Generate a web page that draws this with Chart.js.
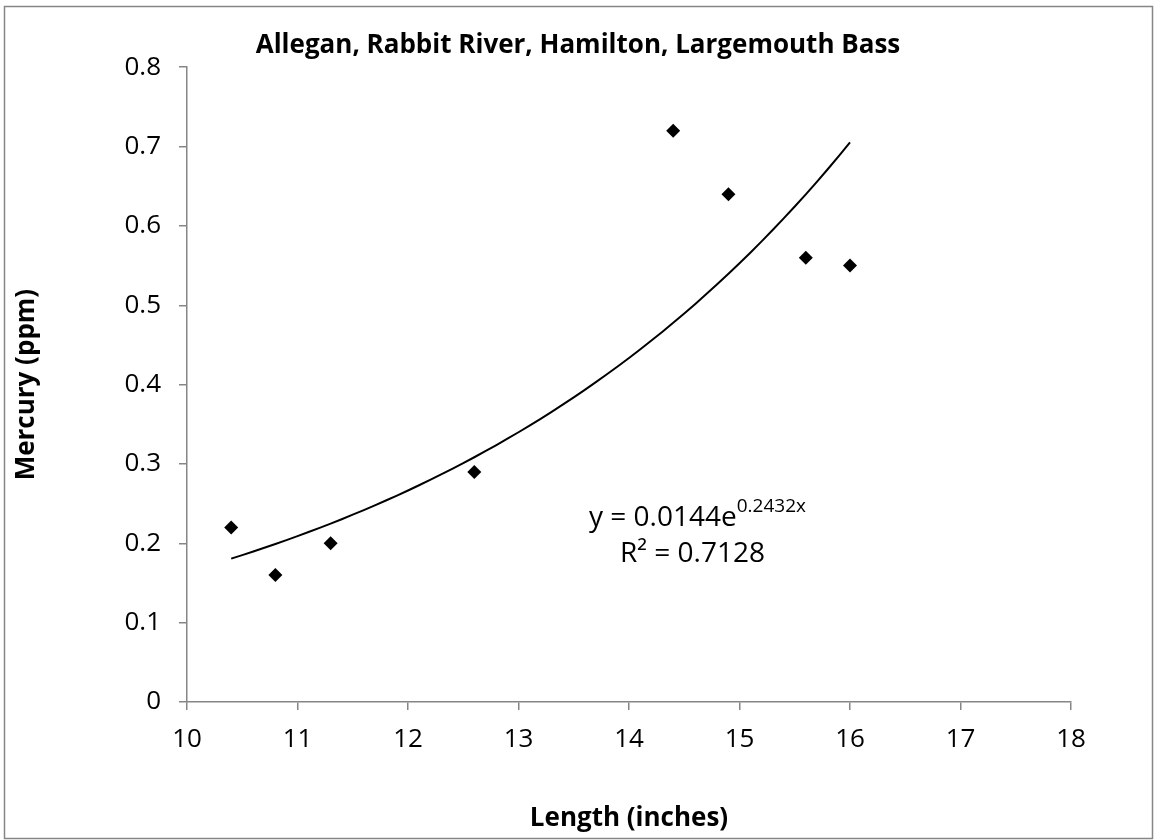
<!DOCTYPE html>
<html>
<head>
<meta charset="utf-8">
<script src="https://cdn.jsdelivr.net/npm/chart.js@4/dist/chart.umd.min.js"></script>
<style>
  html, body { margin: 0; padding: 0; background: #fff; }
  #wrap { width: 1156px; height: 840px; position: relative; }
</style>
</head>
<body>
<div id="wrap"><canvas id="chart" width="1156" height="840"></canvas></div>
<script>
// 数据
const lengths = [10.4, 10.8, 11.3, 12.6, 14.4, 14.9, 15.6, 16.0];
const mercury = [0.22, 0.16, 0.20, 0.29, 0.72, 0.64, 0.56, 0.55];
const xTicks = [10, 11, 12, 13, 14, 15, 16, 17, 18];
const yTicks = [0, 0.1, 0.2, 0.3, 0.4, 0.5, 0.6, 0.7, 0.8];

// 趋势线 (Excel 指数拟合): y = a * e^(b x)
const trendA = 0.0144;
const trendB = 0.2432;
const trendR2 = 0.7128;
const trendFrom = 10.4;
const trendTo = 16.0;

const FONT = '"Open Sans", "Liberation Sans", sans-serif';
const AXIS_GREY = '#868686';

const trendPoints = [];
for (let i = 0; i <= 56; i++) {
  const x = trendFrom + (trendTo - trendFrom) * i / 56;
  trendPoints.push({ x: x, y: trendA * Math.exp(trendB * x) });
}

// 外框 + 标题居中于整张图
const framePlugin = {
  id: 'frame',
  afterLayout(chart) {
    const t = chart.titleBlock;
    if (t) {
      t.left = 0;
      t.right = chart.width;
      t.width = chart.width;
    }
  },
  beforeDraw(chart) {
    const ctx = chart.ctx;
    ctx.save();
    ctx.fillStyle = '#fff';
    ctx.fillRect(0, 0, chart.width, chart.height);
    ctx.strokeStyle = AXIS_GREY;
    ctx.lineWidth = 1.5;
    ctx.strokeRect(4.5, 6.5, 1148, 832);
    ctx.restore();
  }
};

// 公式标签
const equationPlugin = {
  id: 'equation',
  afterDatasetsDraw(chart) {
    const ctx = chart.ctx;
    const xs = chart.scales.x, ys = chart.scales.y;
    const cx = xs.getPixelForValue(14.62);
    const cy = ys.getPixelForValue(0.232);
    ctx.save();
    ctx.fillStyle = '#000';
    ctx.textBaseline = 'middle';
    const main = 'y = ' + trendA.toFixed(4) + 'e';
    const sup = trendB.toFixed(4) + 'x';
    ctx.font = '28px ' + FONT;
    const w1 = ctx.measureText(main).width;
    ctx.font = '19px ' + FONT;
    const w2 = ctx.measureText(sup).width;
    const left = cx - (w1 + w2) / 2;
    ctx.font = '28px ' + FONT;
    ctx.textAlign = 'left';
    ctx.fillText(main, left, cy);
    ctx.font = '19px ' + FONT;
    ctx.fillText(sup, left + w1, cy - 11);
    ctx.font = '28px ' + FONT;
    ctx.textAlign = 'center';
    ctx.fillText('R² = ' + trendR2.toFixed(4), cx - 5, cy + 36);
    ctx.restore();
  }
};

new Chart(document.getElementById('chart'), {
  type: 'scatter',
  data: {
    datasets: [
      {
        label: 'Mercury',
        data: lengths.map((x, i) => ({ x: x, y: mercury[i] })),
        pointStyle: 'rectRot',
        pointRadius: 7,
        pointHoverRadius: 7,
        backgroundColor: '#000',
        borderColor: '#000',
        borderWidth: 0,
        order: 1
      },
      {
        label: 'Trend',
        type: 'line',
        data: trendPoints,
        showLine: true,
        pointRadius: 0,
        borderColor: '#000',
        borderWidth: 2,
        fill: false,
        tension: 0,
        order: 2
      }
    ]
  },
  options: {
    responsive: false,
    animation: false,
    layout: { padding: { left: 8, right: 85, top: 0, bottom: 6 } },
    plugins: {
      legend: { display: false },
      tooltip: { enabled: false },
      title: {
        display: true,
        text: 'Allegan, Rabbit River, Hamilton, Largemouth Bass',
        color: '#000',
        font: { family: FONT, size: 26, weight: 'bold', lineHeight: 1.2 },
        padding: { top: 30, bottom: 6 }
      }
    },
    scales: {
      x: {
        type: 'linear',
        min: 10,
        max: 18,
        afterBuildTicks(scale) { scale.ticks = xTicks.map(v => ({ value: v })); },
        afterFit(scale) { scale.height = 132; },
        grid: { drawOnChartArea: false, drawTicks: true, tickLength: 8, color: AXIS_GREY, lineWidth: 1.5 },
        border: { color: AXIS_GREY, width: 1.5 },
        ticks: { color: '#000', font: { family: FONT, size: 26 }, padding: 14 },
        title: {
          display: true,
          text: 'Length (inches)',
          color: '#000',
          font: { family: FONT, size: 26, weight: 'bold' },
          padding: { top: 0, bottom: 0 }
        }
      },
      y: {
        type: 'linear',
        min: 0,
        max: 0.8,
        afterBuildTicks(scale) { scale.ticks = yTicks.map(v => ({ value: v })); },
        afterFit(scale) { scale.width = 179; },
        grid: { drawOnChartArea: false, drawTicks: true, tickLength: 8, color: AXIS_GREY, lineWidth: 1.5 },
        border: { color: AXIS_GREY, width: 1.5 },
        ticks: {
          color: '#000',
          font: { family: FONT, size: 26 },
          padding: 18,
          callback: v => (v === 0 ? '0' : v.toFixed(1))
        },
        title: {
          display: true,
          text: 'Mercury (ppm)',
          color: '#000',
          font: { family: FONT, size: 26, weight: 'bold' },
          padding: { top: 3, bottom: 0 }
        }
      }
    }
  },
  plugins: [framePlugin, equationPlugin]
});
</script>
</body>
</html>
